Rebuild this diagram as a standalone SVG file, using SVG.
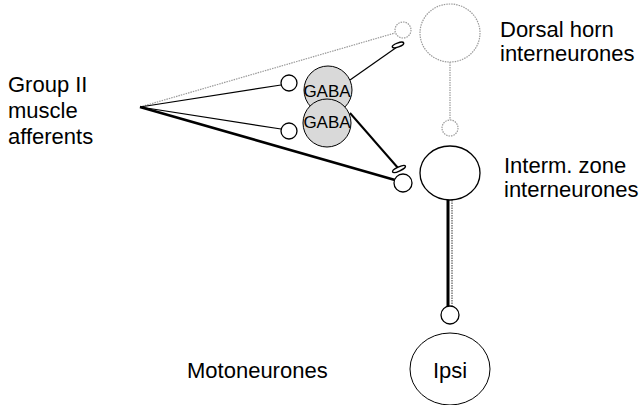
<svg xmlns="http://www.w3.org/2000/svg" width="644" height="405" viewBox="0 0 644 405">
<style>
text{font-family:"Liberation Sans",Arial,sans-serif;fill:#000}
.lbl{font-size:22px}
.gaba{font-size:17px;text-anchor:middle}
.cell{fill:#fff;stroke:#000;stroke-width:1.3}
.gray{fill:none;stroke:#9a9a9a;stroke-width:1.2;stroke-dasharray:1.5 1}
.gabac{fill:#d9d9d9;stroke:#000;stroke-width:1}
.thin{stroke:#000;stroke-width:1.2;fill:none}
.thick{stroke:#000;stroke-width:2.6;fill:none}
.syn{fill:#fff;stroke:#000;stroke-width:1.5}
</style>
<rect width="644" height="405" fill="#fff"/>
<g id="connectors">
<line class="gray" x1="140" y1="107" x2="395" y2="33"/>
<line class="thin" x1="140" y1="107" x2="281" y2="85"/>
<line class="thin" x1="140" y1="107" x2="281" y2="129"/>
<line class="thick" x1="140" y1="107" x2="395" y2="180"/>
<line class="thin" x1="350" y1="80" x2="397" y2="47"/>
<line class="thin" x1="350" y1="113" x2="398" y2="168" style="stroke-width:2"/>
<line class="gray" x1="450" y1="62" x2="450" y2="120"/>
<line class="thick" x1="448" y1="200" x2="448" y2="306" style="stroke-width:3"/>
<line class="gray" x1="452" y1="200" x2="452" y2="306" style="stroke-width:2"/>
</g>
<g id="dorsal-horn">
<ellipse class="gray" cx="450" cy="33" rx="30" ry="29"/>
<circle class="gray" cx="403" cy="30" r="8"/>
<ellipse class="syn" cx="398" cy="45" rx="6" ry="2" transform="rotate(-20 398 45)"/>
<circle class="gray" cx="450" cy="128" r="8"/>
</g>
<g id="gaba-upper">
<circle class="cell" cx="289" cy="83" r="8"/>
<circle class="gabac" cx="328" cy="90" r="24"/>
<text class="gaba" x="327" y="97">GABA</text>
</g>
<g id="gaba-lower">
<circle class="cell" cx="289" cy="131" r="8"/>
<circle class="gabac" cx="327" cy="123" r="24"/>
<text class="gaba" x="327" y="128">GABA</text>
</g>
<g id="interm-zone">
<ellipse class="syn" cx="399" cy="169" rx="7" ry="2" transform="rotate(-25 399 169)"/>
<circle class="cell" cx="403" cy="183" r="9"/>
<ellipse class="cell" cx="450" cy="173" rx="30" ry="27"/>
</g>
<g id="motoneurone">
<circle class="cell" cx="450" cy="315" r="9"/>
<ellipse class="cell" cx="450" cy="369" rx="40" ry="36" style="stroke-width:1"/>
<text class="lbl" x="450" y="378" text-anchor="middle">Ipsi</text>
</g>
<g id="labels">
<text class="lbl" x="8" y="92">Group II</text>
<text class="lbl" x="8" y="118">muscle</text>
<text class="lbl" x="8" y="144">afferents</text>
<text class="lbl" x="500" y="37">Dorsal horn</text>
<text class="lbl" x="500" y="61">interneurones</text>
<text class="lbl" x="504" y="173">Interm. zone</text>
<text class="lbl" x="504" y="197">interneurones</text>
<text class="lbl" x="187" y="378">Motoneurones</text>
</g>
</svg>
